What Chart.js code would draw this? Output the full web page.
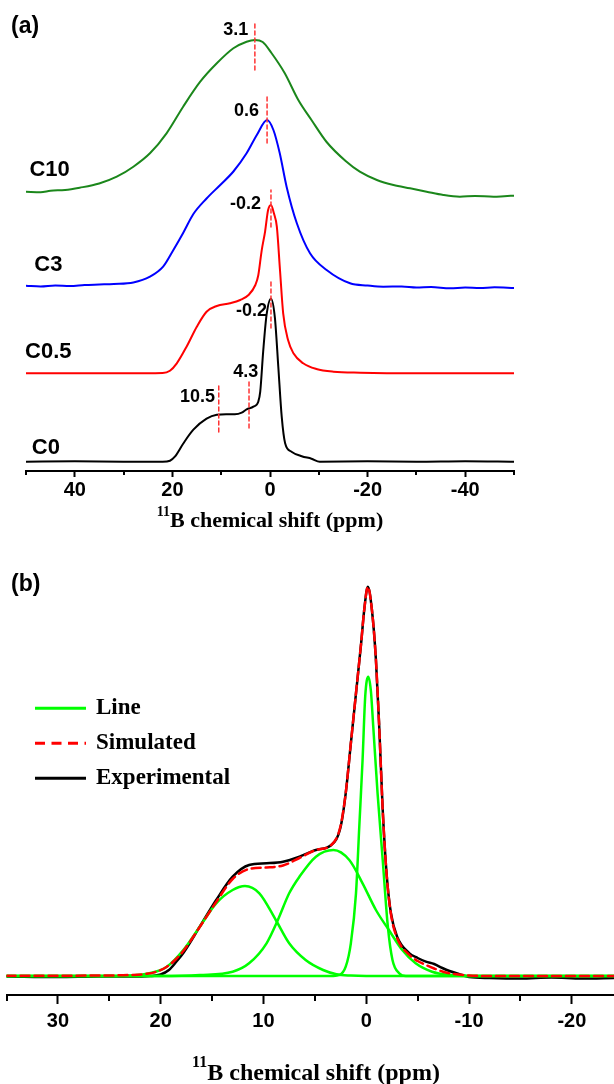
<!DOCTYPE html>
<html>
<head>
<meta charset="utf-8">
<script src="https://cdn.jsdelivr.net/npm/chart.js@4.4.1/dist/chart.umd.min.js"></script>
<style>
  html, body { margin: 0; padding: 0; background: #fff; }
  #wrap { position: relative; width: 614px; height: 1084px; overflow: hidden; }
  canvas { position: absolute; left: 0; }
  #chartA { top: 0; }
  #chartB { top: 545px; }
</style>
</head>
<body>
<div id="wrap">
  <canvas id="chartA" width="614" height="545"></canvas>
  <canvas id="chartB" width="614" height="539"></canvas>
</div>
<script>
// ---- panel (a): stacked spectra, intensity above each trace's own baseline
var ppmC0  = [50, 40, 30, 22, 20.5, 19.5, 17.8, 15.7, 13.0, 10.9, 9.0, 7.2, 5.8, 4.8, 3.4, 2.4, 2.0, 1.4, 0.7, -0.2, -1.0, -1.7, -2.4, -3.1, -4.4, -6.5, -8.5, -10.2, -20, -30, -40, -50];
var intC0  = [0, 0.4, 0, 0, 1, 5, 18, 32, 43, 47, 47.5, 47.4, 49, 52.4, 55, 60, 70, 110, 147, 163, 144, 95, 45, 18.4, 10, 5.5, 3, 0, 0.4, 0, 0.5, 0];

var ppmC05 = [50, 40, 30, 22, 20.5, 19.1, 17.1, 15, 13, 10.9, 8.2, 6.1, 4.4, 3.0, 2.4, 1.7, 1.0, 0.4, -0.2, -0.8, -1.4, -2.05, -2.7, -3.7, -4.8, -6.8, -9.5, -13, -18.5, -30, -40, -50];
var intC05 = [0, 0, 0, 0.3, 2.6, 10, 26.6, 46.6, 61.6, 67.3, 70, 73.3, 78.3, 88.3, 98, 123, 142, 163, 168.3, 160, 146.6, 103, 60, 33.3, 20, 10, 4.3, 1.6, 0.6, 0, 0, 0];

var ppmC3  = [50, 47, 44, 41, 38, 35, 32, 28, 24.6, 21.9, 19.8, 17.8, 15.7, 13.0, 10.2, 7.5, 4.8, 2.7, 0.6, -0.7, -2.0, -3.4, -5.5, -8.2, -11.6, -16.4, -20, -23.2, -27, -30, -33, -36.9, -40, -43, -46, -50];
var intC3  = [1.3, 0.5, 1.5, 1, 2, 2.5, 3, 4.5, 10.3, 20.3, 37, 54, 73, 88.5, 102, 115.5, 133.7, 152, 167, 157, 133.7, 100.3, 63.7, 33.7, 17, 3.7, 1.5, 0.3, 0.5, -0.5, 0, -1.3, -0.5, -1, -0.3, -1];

var ppmC10 = [50, 47, 45, 42, 39, 35, 31.4, 28, 24.6, 21.2, 17.8, 14.3, 10.9, 7.5, 4.8, 3.1, 1.5, -0.3, -3, -5.8, -8.5, -11.6, -15.5, -18.4, -21.9, -25.3, -28.7, -32.1, -35.5, -38.9, -42, -45.8, -48, -50];
var intC10 = [5.3, 4.8, 6.3, 7, 9.3, 13.5, 20.3, 30.3, 43.7, 63.7, 90.3, 115.3, 133.7, 148.7, 155.3, 157, 155, 144, 124, 97, 77, 55, 36, 25.3, 17, 12, 8.7, 5.3, 2, 0.3, 1, 0.3, 0.8, 1.3];

var sampleNames   = ['C0', 'C0.5', 'C3', 'C10'];
var sampleOffsets = [9.3, 97.7, 184, 274];
var nameLabelPpm  = [48.8, 50.2, 48.3, 49.3];
var nameLabelY    = [23.5, 119.3, 206, 301];

// peak markers (red dashed) and their values
var peakPpm     = [3.1, 0.6, -0.2, -0.2, 4.3, 10.5];
var peakText    = ['3.1', '0.6', '-0.2', '-0.2', '4.3', '10.5'];
var markTop     = [448, 376, 281, 189, 91, 86];
var markBottom  = [401, 328, 244, 143, 43, 39];
var peakLabelPpm = [4.45, 2.25, 1.84, 0.61, 2.4, 11.27];
var peakLabelY   = [440.5, 360, 267, 160, 98.5, 74];

var majorTicksA = [40, 20, 0, -20, -40];
var minorTicksA = [50, 30, 10, -10, -30, -50];

// ---- panel (b): deconvolution of C0
var ppmExp = [35, 30, 26, 23, 21, 20, 19.2, 18.5, 17.8, 16.2, 14.6, 13.0, 11.4, 9.7, 8.1, 6.5, 4.9, 3.4, 2.5, 2.0, 1.5, 1.0, 0.5, 0.2, -0.15, -0.55, -0.94, -1.26, -1.6, -2.0, -2.4, -3.0, -4.2, -5.0, -5.8, -6.6, -7.4, -8.1, -9.0, -10.0, -12, -15, -18, -21, -24.1];
var intExp = [-0.5, -1, -0.5, -0.5, 0, 1.5, 6, 14, 23, 49.3, 76, 99.3, 111, 112.7, 114.3, 119.3, 126, 131, 149, 182.7, 232.7, 282.7, 332.7, 366, 389.3, 366, 316, 249.3, 166, 99.3, 62.7, 39.3, 22.7, 18, 14.3, 12, 8, 5, 2, -1, -2, -2.5, -1.5, -2.5, -2];

var ppmSim = [35, 30, 26, 23, 21.5, 20.5, 19.4, 18.5, 17.8, 16.2, 14.6, 13.0, 11.4, 9.7, 8.1, 6.5, 4.9, 3.4, 2.5, 2.0, 1.5, 1.0, 0.5, 0.2, -0.15, -0.55, -0.94, -1.26, -1.6, -2.0, -2.4, -3.0, -4.2, -5.0, -5.8, -6.6, -7.4, -8.5, -10, -12, -24.1];
var intSim = [0.3, 0.3, 0.5, 1, 2, 4, 9.3, 17, 25, 49, 74, 97, 107, 108.5, 110.5, 118, 126, 131, 150, 183, 233, 283, 333, 366, 389, 366, 316, 249, 166, 99, 62, 38, 21, 15, 11, 7.5, 4.5, 2, 0.5, 0, 0];

var ppmG1 = [35, 25, 22.5, 21.1, 19.4, 17.8, 16.2, 14.6, 13.0, 11.8, 10.4, 8.8, 7.5, 5.9, 4.2, 2.9, 1.5, 0, -10, -24.1];
var intG1 = [0, 0, 0.8, 2.7, 9.3, 26, 49.3, 72.7, 86, 90, 82.7, 56, 32.7, 16, 6, 1.7, 0.4, 0, 0, 0];
var ppmG2 = [35, 20, 16.2, 13.0, 11.4, 9.7, 8.6, 7.5, 6.5, 4.9, 3.2, 1.65, 0.36, -0.94, -2.2, -3.5, -4.8, -6.4, -8.1, -10, -24.1];
var intG2 = [0, 0, 1, 4.3, 12.7, 32.7, 56, 82.7, 99.3, 119.3, 126, 116, 92.7, 66, 46, 26, 12.7, 4.3, 1, 0, 0];
var ppmG3 = [35, 5, 3.2, 2.6, 2.0, 1.5, 1.0, 0.68, 0.36, 0.1, -0.2, -0.45, -0.68, -1.1, -1.6, -2.1, -2.55, -3.2, -3.85, -10, -24.1];
var intG3 = [0, 0, 0, 1, 9.3, 32.7, 82.7, 149.3, 216, 280, 299.3, 285, 249.3, 182.7, 116, 49.3, 16, 2.7, 0, 0, 0];

var majorTicksB = [30, 20, 10, 0, -10, -20];
var minorTicksB = [35, 25, 15, 5, -5, -15];

// --------------------------------------------------------------
var SANS = 'Arial, "Liberation Sans", sans-serif';
var SERIF = '"Times New Roman", "Liberation Serif", serif';

function toPoints(xs, ys, off) {
    var out = [];
    for (var i = 0; i < xs.length; i++) {
        out.push({x: xs[i], y: ys[i] + (off || 0)});
    }
    return out;
}

// minor ticks, texts, axis title with superscript, hand legend
var extras = {
    id: 'extras',
    afterDraw: function(chart, args, opt) {
        var ctx = chart.ctx, xs = chart.scales.x, ys = chart.scales.y, area = chart.chartArea;
        ctx.save();
        ctx.strokeStyle = '#000';
        ctx.lineWidth = 2;
        (opt.minor || []).forEach(function(v) {
            var px = Math.round(xs.getPixelForValue(v));
            ctx.beginPath();
            ctx.moveTo(px, area.bottom);
            ctx.lineTo(px, area.bottom + opt.minorLen);
            ctx.stroke();
        });
        ctx.fillStyle = '#000';
        ctx.textBaseline = 'middle';
        (opt.texts || []).forEach(function(t) {
            ctx.font = t.font;
            ctx.textAlign = t.align;
            ctx.fillText(t.text, xs.getPixelForValue(t.x), ys.getPixelForValue(t.y));
        });
        // panel tag
        ctx.font = 'bold 23px ' + SANS;
        ctx.textAlign = 'left';
        ctx.fillText(opt.tag.text, opt.tag.x, opt.tag.y);
        // axis title
        var tt = opt.title;
        ctx.textBaseline = 'alphabetic';
        ctx.font = tt.supFont;
        var w1 = ctx.measureText(tt.sup).width;
        ctx.font = tt.mainFont;
        var w2 = ctx.measureText(tt.main).width;
        var x0 = tt.cx - (w1 + w2) / 2;
        ctx.font = tt.supFont;
        ctx.fillText(tt.sup, x0, tt.supY);
        ctx.font = tt.mainFont;
        ctx.fillText(tt.main, x0 + w1, tt.y);
        // legend
        if (opt.legend) {
            var lg = opt.legend;
            lg.items.forEach(function(it, i) {
                var y = lg.y + i * lg.gap;
                ctx.strokeStyle = it.color;
                ctx.lineWidth = 3;
                ctx.setLineDash(it.dash);
                ctx.beginPath();
                ctx.moveTo(lg.x1, y);
                ctx.lineTo(lg.x2, y);
                ctx.stroke();
                ctx.setLineDash([]);
                ctx.font = lg.font;
                ctx.textBaseline = 'middle';
                ctx.fillStyle = '#000';
                ctx.fillText(it.label, lg.tx, y);
            });
        }
        ctx.restore();
    }
};

// ---------------- chart (a)
var colorsA = ['#000000', '#ff0000', '#0000ff', '#1b871b'];
var tracesA = [[ppmC0, intC0], [ppmC05, intC05], [ppmC3, intC3], [ppmC10, intC10]];
var datasetsA = [];
for (var i = 0; i < tracesA.length; i++) {
    datasetsA.push({
        label: sampleNames[i],
        data: toPoints(tracesA[i][0], tracesA[i][1], sampleOffsets[i]),
        borderColor: colorsA[i],
        borderWidth: 2,
        order: 2
    });
}
for (var k = 0; k < peakPpm.length; k++) {
    datasetsA.push({
        label: 'mark ' + peakText[k],
        data: [{x: peakPpm[k], y: markBottom[k]}, {x: peakPpm[k], y: markTop[k]}],
        borderColor: '#ff3333',
        borderWidth: 1.5,
        borderDash: [4, 3],
        cubicInterpolationMode: 'default',
        tension: 0,
        order: 0
    });
}

var textsA = [];
for (var n = 0; n < sampleNames.length; n++) {
    textsA.push({text: sampleNames[n], x: nameLabelPpm[n], y: nameLabelY[n], align: 'left', font: 'bold 22px ' + SANS});
}
for (var p = 0; p < peakText.length; p++) {
    textsA.push({text: peakText[p], x: peakLabelPpm[p], y: peakLabelY[p], align: 'right', font: 'bold 18px ' + SANS});
}

function xAxis(major, tickLen, pad, fitHeight) {
    return {
        type: 'linear',
        reverse: true,
        afterBuildTicks: function(s) {
            s.ticks = major.map(function(v) { return {value: v}; });
        },
        afterFit: function(s) { s.height = fitHeight; },
        grid: {display: true, drawOnChartArea: false, drawTicks: true, tickLength: tickLen, tickWidth: 2, tickColor: '#000'},
        border: {display: true, color: '#000', width: 2},
        ticks: {
            color: '#000',
            padding: pad,
            autoSkip: false,
            maxRotation: 0,
            font: {family: SANS, weight: 'bold', size: 20},
            callback: function(v) { return String(v); }
        }
    };
}

var scaleAx = xAxis(majorTicksA, 6, 1, 74);
scaleAx.min = -50;
scaleAx.max = 50;

new Chart(document.getElementById('chartA'), {
    type: 'line',
    data: {datasets: datasetsA},
    options: {
        responsive: false,
        animation: false,
        layout: {padding: {left: 26, right: 100, top: 20, bottom: 0}},
        elements: {
            point: {radius: 0},
            line: {cubicInterpolationMode: 'monotone', borderCapStyle: 'round', borderJoinStyle: 'round'}
        },
        plugins: {
            legend: {display: false},
            tooltip: {enabled: false},
            extras: {
                minor: minorTicksA,
                minorLen: 4,
                texts: textsA,
                tag: {text: '(a)', x: 11, y: 27},
                title: {sup: '11', main: 'B chemical shift (ppm)', supFont: 'bold 14px ' + SERIF, mainFont: 'bold 22px ' + SERIF, cx: 270, y: 527, supY: 516}
            }
        },
        scales: {
            x: scaleAx,
            y: {display: false, min: 0, max: 451}
        }
    },
    plugins: [extras]
});

// ---------------- chart (b)
var greenB = '#00ff00';
var datasetsB = [
    {label: 'Simulated', data: toPoints(ppmSim, intSim), borderColor: '#ff0000', borderWidth: 2.5, borderDash: [9, 5], order: 0},
    {label: 'Line', data: toPoints(ppmG1, intG1), borderColor: greenB, borderWidth: 2.5, order: 1},
    {label: 'Line 2', data: toPoints(ppmG2, intG2), borderColor: greenB, borderWidth: 2.5, order: 1},
    {label: 'Line 3', data: toPoints(ppmG3, intG3), borderColor: greenB, borderWidth: 2.5, order: 1},
    {label: 'Experimental', data: toPoints(ppmExp, intExp), borderColor: '#000000', borderWidth: 2.5, order: 2}
];

var scaleBx = xAxis(majorTicksB, 9, 5, 89);
scaleBx.min = -24.1;
scaleBx.max = 35;

new Chart(document.getElementById('chartB'), {
    type: 'line',
    data: {datasets: datasetsB},
    options: {
        responsive: false,
        animation: false,
        layout: {padding: {left: 6.5, right: 0, top: 35, bottom: 0}},
        elements: {
            point: {radius: 0},
            line: {cubicInterpolationMode: 'monotone', borderCapStyle: 'round', borderJoinStyle: 'round'}
        },
        plugins: {
            legend: {display: false},
            tooltip: {enabled: false},
            extras: {
                minor: minorTicksB,
                minorLen: 6,
                texts: [],
                tag: {text: '(b)', x: 11, y: 40},
                title: {sup: '11', main: 'B chemical shift (ppm)', supFont: 'bold 16px ' + SERIF, mainFont: 'bold 24px ' + SERIF, cx: 316, y: 535, supY: 522},
                legend: {
                    x1: 35, x2: 86, tx: 96, y: 163.3, gap: 35,
                    font: 'bold 23px ' + SERIF,
                    items: [
                        {label: 'Line', color: greenB, dash: []},
                        {label: 'Simulated', color: '#ff0000', dash: [10, 6.5]},
                        {label: 'Experimental', color: '#000000', dash: []}
                    ]
                }
            }
        },
        scales: {
            x: scaleBx,
            y: {display: false, min: -19, max: 396}
        }
    },
    plugins: [extras]
});
</script>
</body>
</html>
